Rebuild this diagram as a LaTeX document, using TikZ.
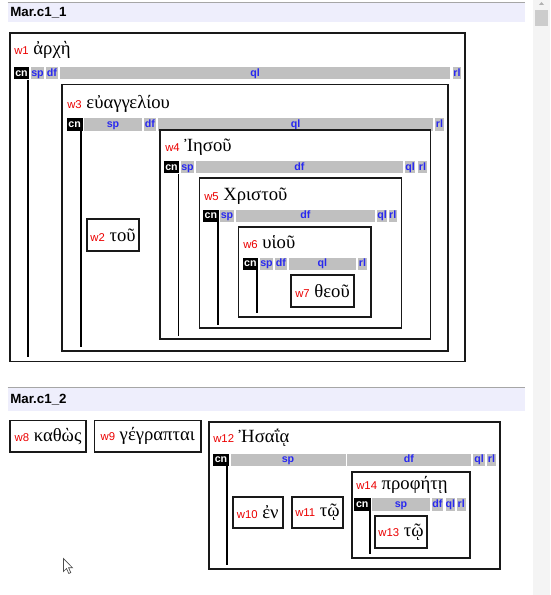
\documentclass[tikz,border=0pt]{standalone}
\usepackage{fontspec}
\setmainfont{Liberation Serif}
\setsansfont{Liberation Sans}
\newfontfamily\greekfont{Liberation Serif}
\usetikzlibrary{positioning}

\definecolor{bargray}{RGB}{192,192,192}
\definecolor{barblue}{RGB}{40,40,240}
\definecolor{wred}{RGB}{235,0,0}
\definecolor{headbg}{RGB}{238,238,252}
\newcommand\greek{\greekfont\fontsize{14}{16}\selectfont}
\newcommand\wnum[1]{{\sffamily\fontsize{8.5}{10}\selectfont\color{wred}#1}}

\begin{document}
\begin{tikzpicture}[x=0.75pt, y=-0.75pt,
        spanbox/.style args={#1/#2/#3/#4}{at={({(#1+#3)/2},{(#2+#4)/2})}, minimum width={(#3-#1)*0.75pt}, minimum height={(#4-#2)*0.75pt}},
        wordbox/.style={rectangle, draw=black!90, line width=1.4pt, inner sep=0pt, font=\greek},
        barcell/.style={rectangle, fill=bargray, inner sep=0pt, text=barblue, text height=5.9pt, text depth=1.6pt, font=\sffamily\bfseries\fontsize{8}{9}\selectfont},
        cncell/.style={barcell, fill=black, text=white},
        stem/.style={line width=1.4pt},
        wlabel/.style={anchor=base west, inner sep=0pt, font=\greek},
        headband/.style={rectangle, fill=headbg, inner sep=0pt},
        headtext/.style={anchor=west, inner sep=0pt, font=\sffamily\bfseries\fontsize{10}{12}\selectfont}]

    \useasboundingbox (0,0) rectangle (550,595);

    % scroll bar
    \fill[gray!9] (533,0) rectangle (550,595);
    \fill[gray!40] (535,10) rectangle (548,26);
    \fill[gray!60] (539,5) -- (544,5) -- (541.5,2) -- cycle;

    % sentence 1
    \node[headband, spanbox=8/3/525/22.5] (sec1) {};
    \draw[gray!70, line width=0.75pt] (sec1.north west) -- (sec1.north east);
    \node[headtext] (sec1lab) at (10,13) {Mar.c1\_1};

    \node[wordbox, spanbox=10/33/465/361.5] (w1) {};
    \node[wlabel] (w1lab) at (14,54.5) {\wnum{w1} ἀρχὴ};
    \node[cncell, spanbox=14/67/29/79.5] (w1cn) {cn};
    \foreach \n/\a/\b in {sp/31/44, df/46/58, ql/60/450, rl/453/461}
        \node[barcell, spanbox=\a/67/\b/79.5] (w1\n) {\n};
    \coordinate (w1end) at (28,357);
    \draw[stem] (w1end |- w1cn.south) -- (w1end);

    \node[wordbox, spanbox=87/219/139/251] (w2) {\wnum{w2} τοῦ};

    \node[wordbox, spanbox=62/84.5/448/350.7] (w3) {};
    \node[wlabel] (w3lab) at (67,108.5) {\wnum{w3} εὐαγγελίου};
    \node[cncell, spanbox=66.7/118.5/82.5/131] (w3cn) {cn};
    \foreach \n/\a/\b in {sp/84/142, df/144/156, ql/158/433, rl/435/444}
        \node[barcell, spanbox=\a/118.5/\b/131] (w3\n) {\n};
    \coordinate (w3end) at (81,346.5);
    \draw[stem] (w3end |- w3cn.south) -- (w3end);

    \node[wordbox, spanbox=160/130/430.5/339] (w4) {};
    \node[wlabel] (w4lab) at (165,151.5) {\wnum{w4} Ἰησοῦ};
    \node[cncell, spanbox=164/161.5/179/173.5] (w4cn) {cn};
    \foreach \n/\a/\b in {sp/181/194, df/196/403, ql/405/415, rl/418/427}
        \node[barcell, spanbox=\a/161.5/\b/173.5] (w4\n) {\n};
    \coordinate (w4end) at (178.5,336);
    \draw[stem] (w4end |- w4cn.south) -- (w4end);

    \node[wordbox, spanbox=199.5/178/401.5/328] (w5) {};
    \node[wlabel] (w5lab) at (204,200) {\wnum{w5} Χριστοῦ};
    \node[cncell, spanbox=203/209.5/218.7/222] (w5cn) {cn};
    \foreach \n/\a/\b in {sp/220/234, df/236/375, ql/377/387, rl/388.5/397}
        \node[barcell, spanbox=\a/209.5/\b/222] (w5\n) {\n};
    \coordinate (w5end) at (218,325);
    \draw[stem] (w5end |- w5cn.south) -- (w5end);

    \node[wordbox, spanbox=238.5/226.7/371/317.3] (w6) {};
    \node[wlabel] (w6lab) at (243,248) {\wnum{w6} υἱοῦ};
    \node[cncell, spanbox=242.7/258/258/270] (w6cn) {cn};
    \foreach \n/\a/\b in {sp/260/273, df/275/287, ql/288.5/356, rl/358/367}
        \node[barcell, spanbox=\a/258/\b/270] (w6\n) {\n};
    \coordinate (w6end) at (257.3,313);
    \draw[stem] (w6end |- w6cn.south) -- (w6end);

    \node[wordbox, spanbox=291/275/354/306.7] (w7) {\wnum{w7} θεοῦ};

    % sentence 2
    \node[headband, spanbox=8/388/525/410.5] (sec2) {};
    \draw[gray!70, line width=0.75pt] (sec2.north west) -- (sec2.north east);
    \node[headtext] (sec2lab) at (10,399.5) {Mar.c1\_2};

    \node[wordbox, spanbox=10/420.5/86/452] (w8) {\wnum{w8} καθὼς};
    \node[wordbox, spanbox=94.5/420.5/201/452] (w9) {\wnum{w9} γέγραπται};

    \node[wordbox, spanbox=209/422/500/569.3] (w12) {};
    \node[wlabel] (w12lab) at (213,442) {\wnum{w12} Ἠσαΐᾳ};
    \node[cncell, spanbox=213/453.5/229/466] (w12cn) {cn};
    \foreach \n/\a/\b in {sp/230.5/345.5, df/347/471, ql/473/485, rl/487/496}
        \node[barcell, spanbox=\a/453.5/\b/466] (w12\n) {\n};
    \coordinate (w12end) at (227.4,565);
    \draw[stem] (w12end |- w12cn.south) -- (w12end);

    \node[wordbox, spanbox=232.7/496.7/282.7/528.3] (w10) {\wnum{w10} ἐν};
    \node[wordbox, spanbox=291.7/496.7/343.3/528.3] (w11) {\wnum{w11} τῷ};

    \node[wordbox, spanbox=352/472/470/558] (w14) {};
    \node[wlabel] (w14lab) at (356,489) {\wnum{w14} προφήτῃ};
    \node[cncell, spanbox=354/498/370.5/510.5] (w14cn) {cn};
    \foreach \n/\a/\b in {sp/372/430, df/432/443, ql/445.5/455, rl/457/465.5}
        \node[barcell, spanbox=\a/498/\b/510.5] (w14\n) {\n};
    \coordinate (w14end) at (370,554);
    \draw[stem] (w14end |- w14cn.south) -- (w14end);

    \node[wordbox, spanbox=375/516/427/547.7] (w13) {\wnum{w13} τῷ};

    % mouse pointer
    \draw[fill=white, draw=black!70, line width=0.5pt] (63.5,558.5) -- (63.5,571.5) -- (66.5,568.5) -- (68.8,573.5) -- (70.8,572.6) -- (68.6,567.8) -- (72.5,567.8) -- cycle;

\end{tikzpicture}
\end{document}
